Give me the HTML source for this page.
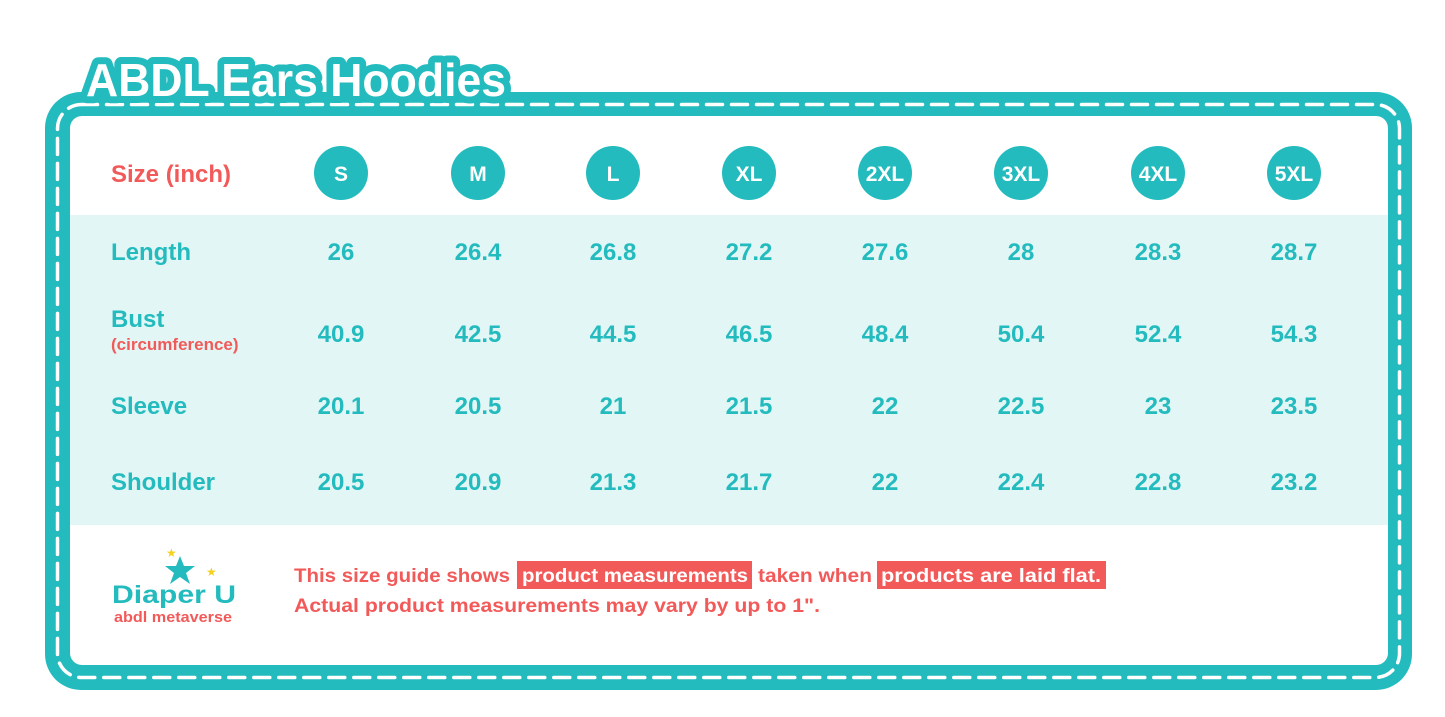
<!DOCTYPE html>
<html><head><meta charset="utf-8"><style>
body{margin:0;background:#fff}
svg{display:block}
text{font-family:"Liberation Sans","DejaVu Sans",sans-serif;font-weight:bold}
</style></head><body>
<svg width="1445" height="717" viewBox="0 0 1445 717" xmlns="http://www.w3.org/2000/svg">
<rect width="1445" height="717" fill="#fff"/>
<rect x="45" y="92" width="1367" height="598" rx="36" fill="#23BBBE"/>
<rect x="57.5" y="104.5" width="1342" height="573" rx="24" fill="none" stroke="#fff" stroke-width="3.5" stroke-dasharray="16 9" stroke-linecap="round"/>
<rect x="70" y="116" width="1318" height="549" rx="12" fill="#fff"/>
<rect x="70" y="215" width="1318" height="310" fill="#E2F6F5"/>
<text x="86" y="96" font-size="46" fill="#fff" stroke="#23BBBE" stroke-width="14" stroke-linejoin="round" paint-order="stroke" textLength="420" lengthAdjust="spacingAndGlyphs">ABDL Ears Hoodies</text>
<text x="111" y="182" font-size="24" fill="#F25A5A">Size (inch)</text>
<g fill="#23BBBE">
<circle cx="341" cy="173" r="27"/><circle cx="478" cy="173" r="27"/><circle cx="613" cy="173" r="27"/><circle cx="749" cy="173" r="27"/><circle cx="885" cy="173" r="27"/><circle cx="1021" cy="173" r="27"/><circle cx="1158" cy="173" r="27"/><circle cx="1294" cy="173" r="27"/>
</g>
<g fill="#fff" font-size="21" text-anchor="middle">
<text x="341" y="181">S</text><text x="478" y="181">M</text><text x="613" y="181">L</text><text x="749" y="181">XL</text><text x="885" y="181">2XL</text><text x="1021" y="181">3XL</text><text x="1158" y="181">4XL</text><text x="1294" y="181">5XL</text>
</g>
<g fill="#23BBBE" font-size="24">
<text x="111" y="260">Length</text>
<text x="111" y="327">Bust</text>
<text x="111" y="414">Sleeve</text>
<text x="111" y="490">Shoulder</text>
</g>
<text x="111" y="350" font-size="17" fill="#F25A5A">(circumference)</text>
<g fill="#23BBBE" font-size="24" text-anchor="middle">
<text x="341" y="260">26</text><text x="478" y="260">26.4</text><text x="613" y="260">26.8</text><text x="749" y="260">27.2</text><text x="885" y="260">27.6</text><text x="1021" y="260">28</text><text x="1158" y="260">28.3</text><text x="1294" y="260">28.7</text>
<text x="341" y="342">40.9</text><text x="478" y="342">42.5</text><text x="613" y="342">44.5</text><text x="749" y="342">46.5</text><text x="885" y="342">48.4</text><text x="1021" y="342">50.4</text><text x="1158" y="342">52.4</text><text x="1294" y="342">54.3</text>
<text x="341" y="414">20.1</text><text x="478" y="414">20.5</text><text x="613" y="414">21</text><text x="749" y="414">21.5</text><text x="885" y="414">22</text><text x="1021" y="414">22.5</text><text x="1158" y="414">23</text><text x="1294" y="414">23.5</text>
<text x="341" y="490">20.5</text><text x="478" y="490">20.9</text><text x="613" y="490">21.3</text><text x="749" y="490">21.7</text><text x="885" y="490">22</text><text x="1021" y="490">22.4</text><text x="1158" y="490">22.8</text><text x="1294" y="490">23.2</text>
</g>
<polygon points="180,556 184,566 195,566 186,573 190,584 180,577 170,584 174,573 165,566 176,566" fill="#23BBBE"/>
<text x="166" y="557" font-size="12" fill="#F5D21E">★</text>
<text x="206" y="576" font-size="12" fill="#F5D21E">★</text>
<text x="112" y="603" font-size="25" fill="#23BBBE" textLength="124" lengthAdjust="spacingAndGlyphs">Diaper U</text>
<text x="114" y="622" font-size="15" fill="#F25A5A" textLength="118" lengthAdjust="spacingAndGlyphs">abdl metaverse</text>
<rect x="517" y="561" width="235" height="28" fill="#F25A5A"/>
<rect x="877" y="561" width="229" height="28" fill="#F25A5A"/>
<text x="294" y="582" font-size="19" fill="#F25A5A" textLength="216" lengthAdjust="spacingAndGlyphs">This size guide shows</text>
<text x="522" y="582" font-size="19" fill="#fff" textLength="226" lengthAdjust="spacingAndGlyphs">product measurements</text>
<text x="758" y="582" font-size="19" fill="#F25A5A" textLength="114" lengthAdjust="spacingAndGlyphs">taken when</text>
<text x="881" y="582" font-size="19" fill="#fff" textLength="220" lengthAdjust="spacingAndGlyphs">products are laid flat.</text>
<text x="294" y="612" font-size="19" fill="#F25A5A" textLength="526" lengthAdjust="spacingAndGlyphs">Actual product measurements may vary by up to 1".</text>
</svg>
</body></html>
